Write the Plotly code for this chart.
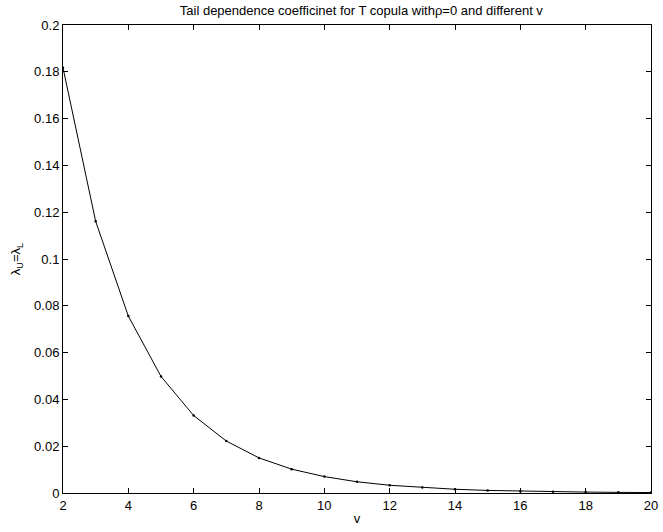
import plotly.graph_objects as go

nu = list(range(2, 21))
lam = [0.1817, 0.1161, 0.0756, 0.0498, 0.0331, 0.0222, 0.0150, 0.0102, 0.0070,
       0.0048, 0.0033, 0.0023, 0.0016, 0.0011, 0.0008, 0.00055, 0.00039, 0.00027, 0.00019]
xticks = [2, 4, 6, 8, 10, 12, 14, 16, 18, 20]
yticks = [0, 0.02, 0.04, 0.06, 0.08, 0.1, 0.12, 0.14, 0.16, 0.18, 0.2]

fig = go.Figure(go.Scatter(x=nu, y=lam, mode="lines+markers",
                           line=dict(color="black", width=1),
                           marker=dict(color="black", size=2.5)))

font = dict(family="Liberation Sans, Arial, sans-serif", size=13, color="black")
axis = dict(showgrid=False, zeroline=False, showline=True, linecolor="black", linewidth=1,
            mirror="ticks", ticks="inside", ticklen=5, tickcolor="black", tickfont=font,
            ticklabeloverflow="allow")

fig.update_layout(
    width=663, height=532, margin=dict(l=63, r=5, t=25, b=39),
    paper_bgcolor="white", plot_bgcolor="white", showlegend=False,
    title=dict(text="Tail dependence coefficinet for T copula withρ=0 and different v",
               x=0.545, xanchor="center", y=0.988, yanchor="top",
               font=dict(family="Liberation Sans, Arial, sans-serif", size=13, color="black")),
    xaxis=dict(axis, range=[2, 20], tickvals=xticks, ticktext=[str(t) for t in xticks],
               title=dict(text="v", font=font, standoff=2)),
    yaxis=dict(axis, range=[0, 0.2], tickvals=yticks, ticktext=[f"{t:g}" for t in yticks],
               title=dict(text="λ<sub>U</sub>=λ<sub>L</sub>", font=font, standoff=10)),
)
fig.write_html("out.html")
